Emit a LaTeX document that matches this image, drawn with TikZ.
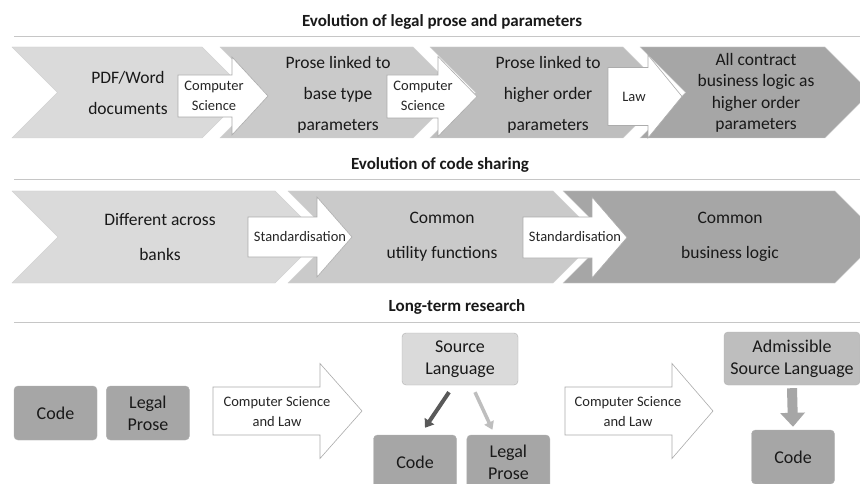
\documentclass[tikz,border=0pt]{standalone}
\usepackage{fontspec}
\setmainfont{Carlito}
\usepackage{xcolor}
\usetikzlibrary{arrows.meta,positioning,calc}
\definecolor{greyA}{HTML}{DADADA}
\definecolor{greyB}{HTML}{CACACA}
\definecolor{greyC}{HTML}{BEBEBE}
\definecolor{greyD}{HTML}{A6A6A6}
\definecolor{greyDark}{HTML}{595959}
\tikzset{
  heading/.style={font=\bfseries\fontsize{17}{19}\selectfont, text=black!90},
  rule/.style={draw=gray!45, line width=0.8pt},
  chevfill/.style={draw=gray!35, line width=0.4pt},
  chevtext/.style={align=center, text=black!90, font=\fontsize{17.5}{31}\selectfont},
  arrtext/.style={align=center, text=black!85, font=\fontsize{14.5}{20}\selectfont},
  whitearrow/.style={draw=gray!65, fill=white, line width=0.6pt},
  box/.style={draw=gray!60, rounded corners=4pt, fill=greyD, align=center, text=black!90,
    font=\fontsize{18}{22}\selectfont, minimum width=83pt, minimum height=54pt, inner sep=2pt},
  darkarrow/.style={draw=greyDark, line width=4pt, -{Triangle[length=8pt,width=11pt]}},
  lightarrow/.style={draw=greyC, line width=3.5pt, -{Triangle[length=8pt,width=10pt]}},
  downarrow/.style={draw=greyD, line width=10pt, -{Triangle[length=14pt,width=24pt]}},
}
% left, top right, top, bottom, fill
\newcommand{\chevron}[5]{%
  \path[chevfill, fill=#5] (#1,#3) -- (#2,#3) -- ({#2+(#4-#3)/2},{(#3+#4)/2})
    -- (#2,#4) -- (#1,#4) -- ({#1+(#4-#3)/2},{(#3+#4)/2}) -- cycle;}
% body left, head start, tip, middle, body half height, head half height
\newcommand{\blockarrow}[6]{%
  \path[whitearrow] (#1,{#4-#5}) -- (#2,{#4-#5}) -- (#2,{#4-#6}) -- (#3,#4)
    -- (#2,{#4+#6}) -- (#2,{#4+#5}) -- (#1,{#4+#5}) -- cycle;}

\begin{document}
\begin{tikzpicture}[x=1pt, y=-1pt]
\path[use as bounding box, fill=white] (0,0) rectangle (860,484);

\node[heading] (title1) at (442,22) {Evolution of legal prose and parameters};
\draw[rule] (14,36) -- (860,36);
\chevron{12}{202}{47}{138}{greyA}
\chevron{220}{413}{47}{138}{greyB}
\chevron{430}{623}{47}{138}{greyC}
\chevron{640}{825}{47}{138}{greyD}
\node[chevtext] (pdf) at (128,93) {PDF/Word\\documents};
\node[chevtext] (basep) at (338,95) {Prose linked to\\base type\\parameters};
\node[chevtext] (higherp) at (548,95) {Prose linked to\\higher order\\parameters};
\node[chevtext, font=\fontsize{17.5}{21.5}\selectfont] (allp) at (756,93) {All contract\\business logic as\\higher order\\parameters};
\blockarrow{178}{232}{268}{96}{21}{39}
\blockarrow{387}{438}{477}{96.5}{21.5}{40}
\blockarrow{608}{648}{682}{96.5}{29}{41.5}
\node[arrtext] (cs1) at (214,96) {Computer\\Science};
\node[arrtext] (cs2) at (423,96) {Computer\\Science};
\node[arrtext] (law) at (634,97) {Law};

\node[heading] (title2) at (440,165) {Evolution of code sharing};
\draw[rule] (14,179) -- (860,179);
\chevron{12}{275}{191}{283}{greyA}
\chevron{288}{553}{191}{283}{greyB}
\chevron{563}{835}{191}{283}{greyD}
\node[chevtext, font=\fontsize{17.5}{35}\selectfont] (banks) at (160,237) {Different across\\banks};
\node[chevtext, font=\fontsize{17.5}{35}\selectfont] (utility) at (442,237) {Common\\utility functions};
\node[chevtext, font=\fontsize{17.5}{35}\selectfont] (logic) at (730,237) {Common\\business logic};
\blockarrow{248}{317}{352}{237}{20}{40}
\blockarrow{523}{592}{627}{237.5}{20.5}{40.5}
\node[arrtext] (std1) at (300,237) {Standardisation};
\node[arrtext] (std2) at (575,237) {Standardisation};

\node[heading] (title3) at (457,307) {Long-term research};
\draw[rule] (14,322) -- (860,322);
\node[box] (code1) at (55.5,413) {Code};
\node[box, right=9pt of code1] (prose1) {Legal\\Prose};
\blockarrow{213}{320}{362}{411}{24}{47.5}
\node[arrtext] (csl1) at (277,412) {Computer Science\\and Law};
\node[box, fill=greyA, minimum width=116pt, minimum height=52pt] (src) at (460,359) {Source\\Language};
\node[box] (code2) at (415,462) {Code};
\node[box, right=10pt of code2] (prose2) {Legal\\Prose};
\draw[darkarrow] ([xshift=-11pt,yshift=-7pt]src.south) -- ([xshift=10pt,yshift=7pt]code2.north);
\draw[lightarrow] ([xshift=15pt,yshift=-7pt]src.south) -- ([xshift=-16pt,yshift=5pt]prose2.north);
\blockarrow{565}{672}{713}{411}{24}{47.5}
\node[arrtext] (csl2) at (628,412) {Computer Science\\and Law};
\node[box, fill=greyC, minimum width=136pt, minimum height=53pt] (adm) at (792,358.5) {Admissible\\Source Language};
\node[box] (code3) at (793,457) {Code};
\draw[downarrow] ([yshift=-3pt]adm.south) -- ([yshift=3pt]code3.north);
\end{tikzpicture}
\end{document}
